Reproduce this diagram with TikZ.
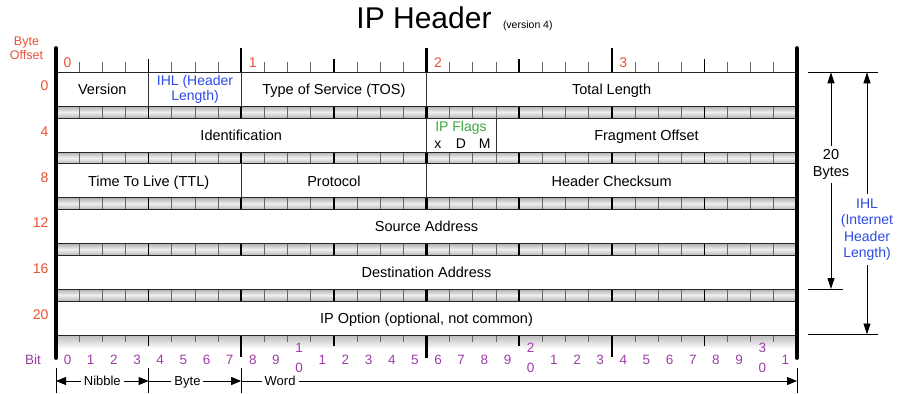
\documentclass[tikz,border=0pt]{standalone}
\usepackage{fontspec}
\setmainfont{Liberation Sans}
\usetikzlibrary{arrows.meta}
\definecolor{offsetred}{RGB}{232,82,52}
\definecolor{bitpurple}{RGB}{158,62,168}
\definecolor{ihlblue}{RGB}{45,75,230}
\definecolor{flaggreen}{RGB}{62,168,62}

\begin{document}
\begin{tikzpicture}[x=1pt,y=-1pt,
  every node/.style={inner sep=0pt, outer sep=0pt},
  field/.style={font=\fontsize{14.5}{16.5}\selectfont, text height=10.4pt, text depth=0pt},
  multifield/.style={font=\fontsize{14}{15.2}\selectfont, align=center},
  offsetnum/.style={font=\fontsize{14}{16}\selectfont, text=offsetred, text height=10pt, text depth=0pt, anchor=east},
  bytenum/.style={font=\fontsize{14}{16}\selectfont, text=offsetred, text height=10pt, text depth=0pt},
  bitnum/.style={font=\fontsize{13.5}{15}\selectfont, text=bitpurple, text height=9.7pt, text depth=0pt},
  rowbox/.style={fill=white, draw=black!85, line width=0.9pt},
  divider/.style={draw=black!80, line width=1pt},
  bittick/.style={draw=black!60, line width=0.8pt},
  nibtick/.style={draw=black, line width=1.4pt},
  bytetick/.style={draw=black, line width=2pt},
  wordtick/.style={draw=black, line width=3.4pt},
  frameedge/.style={draw=black, line width=3.8pt, line cap=round},
  guide/.style={draw=black, line width=0.8pt},
  dimarrow/.style={draw=black, line width=0.9pt, {Triangle[length=11pt,width=7pt]}-{Triangle[length=11pt,width=7pt]}},
  spanarrow/.style={draw=black, line width=0.9pt},
  spanlabel/.style={font=\fontsize{13}{15}\selectfont, fill=white, inner xsep=3pt, inner ysep=1pt, text height=9.4pt, text depth=0pt},
  dimlabel/.style={font=\fontsize{14.5}{16.5}\selectfont, fill=white, align=center, inner sep=4pt}
]
\useasboundingbox (0,0) rectangle (898,394);
\fill[white] (0,0) rectangle (898,394);

% title
\node[anchor=base, font=\fontsize{30}{34}\selectfont] (title) at (424,28) {IP Header};
\node[anchor=base west, font=\fontsize{10.5}{12}\selectfont] (titlever) at (503,28) {(version 4)};

% shaded separator strips between the 32-bit rows, with bit ticks
\foreach \k in {0,...,4}{
  \pgfmathsetmacro\ya{106.3+45.74*\k}
  \pgfmathsetmacro\yb{118.04+45.74*\k}
  \shade[top color=gray!62, bottom color=gray!58, middle color=gray!12] (56,\ya) rectangle (797,\yb);
  \foreach \i in {1,2,3,5,6,7,9,10,11,13,14,15,17,18,19,21,22,23,25,26,27,29,30,31}
    \draw[bittick] ({56+23.156*\i},\ya) -- ({56+23.156*\i},\yb);
  \foreach \i in {4,12,20,28}
    \draw[nibtick] ({56+23.156*\i},\ya) -- ({56+23.156*\i},\yb);
  \foreach \i in {8,24}
    \draw[bytetick] ({56+23.156*\i},\ya) -- ({56+23.156*\i},\yb);
  \draw[wordtick] ({56+23.156*16},\ya) -- ({56+23.156*16},\yb);
}

% shading under the last row
\shade[top color=gray!55, bottom color=white] (56,334.3) rectangle (797,349);

% top ruler
\foreach \i in {1,2,3,5,6,7,9,10,11,13,14,15,17,18,19,21,22,23,25,26,27,29,30,31}
  \draw[bittick] ({56+23.156*\i},62) -- ({56+23.156*\i},72.3);
\foreach \i in {4,12,20,28}
  \draw[nibtick] ({56+23.156*\i},59) -- ({56+23.156*\i},72.3);
\foreach \i in {8,24}
  \draw[bytetick] ({56+23.156*\i},48) -- ({56+23.156*\i},72.3);
\draw[wordtick] ({56+23.156*16},48) -- ({56+23.156*16},72.3);

% bottom ruler
\foreach \i in {1,2,3,5,6,7,9,10,11,13,14,15,17,18,19,21,22,23,25,26,27,29,30,31}
  \draw[bittick] ({56+23.156*\i},334.3) -- ({56+23.156*\i},342);
\foreach \i in {4,12,20,28}
  \draw[nibtick] ({56+23.156*\i},334.3) -- ({56+23.156*\i},346);
\foreach \i in {8,24}
  \draw[bytetick] ({56+23.156*\i},334.3) -- ({56+23.156*\i},357);
\draw[wordtick] ({56+23.156*16},334.3) -- ({56+23.156*16},358);

% the six rows
\foreach \k in {0,...,5}
  \draw[rowbox] (56,{72.3+45.74*\k}) rectangle (797,{106.3+45.74*\k});

% field boundaries inside rows
\draw[divider] (148.6,72.3) -- (148.6,106.3);
\draw[divider] (241.2,72.3) -- (241.2,106.3);
\draw[divider] (426.5,72.3) -- (426.5,106.3);
\draw[divider] (426.5,118.04) -- (426.5,152.04);
\draw[divider] (496,118.04) -- (496,152.04);
\draw[divider] (241.2,163.78) -- (241.2,197.78);
\draw[divider] (426.5,163.78) -- (426.5,197.78);

% outer frame lines
\draw[frameedge] (56,48) -- (56,358);
\draw[frameedge] (797,48) -- (797,358);

% field names
\node[field] (fver) at (102.3,89.3) {Version};
\node[multifield, text=ihlblue] (fihl) at (195,89) {IHL (Header\\Length)};
\node[field] (ftos) at (333.9,89.3) {Type of Service (TOS)};
\node[field] (ftot) at (611.6,89.3) {Total Length};
\node[field] (fid) at (241.2,135) {Identification};
\node[field, text=flaggreen, font=\fontsize{14}{16}\selectfont] (fflags) at (461,126) {IP Flags};
\node[field, font=\fontsize{14}{16}\selectfont] (fx) at (437.8,143.5) {x};
\node[field, font=\fontsize{14}{16}\selectfont] (fd) at (461,143.5) {D};
\node[field, font=\fontsize{14}{16}\selectfont] (fm) at (484.6,143.5) {M};
\node[field] (ffrag) at (646.5,135) {Fragment Offset};
\node[field] (fttl) at (148.6,180.8) {Time To Live (TTL)};
\node[field] (fproto) at (333.9,180.8) {Protocol};
\node[field] (fcheck) at (611.6,180.8) {Header Checksum};
\node[field] (fsrc) at (426.5,226.5) {Source Address};
\node[field] (fdst) at (426.5,272.3) {Destination Address};
\node[field] (fopt) at (426.5,318) {IP Option (optional, not common)};

% byte offsets on the left
\node[font=\fontsize{12.5}{13.5}\selectfont, text=offsetred, align=center] (byteoff) at (26.5,48.5) {Byte\\Offset};
\node[offsetnum] (off0) at (48.5,85.5) {0};
\node[offsetnum] (off4) at (48.5,131.3) {4};
\node[offsetnum] (off8) at (48.5,177) {8};
\node[offsetnum] (off12) at (48.5,222.8) {12};
\node[offsetnum] (off16) at (48.5,268.5) {16};
\node[offsetnum] (off20) at (48.5,314.3) {20};

% byte numbers along the top ruler
\foreach \j in {0,...,3}
  \node[bytenum] (byte\j) at ({56+23.156*(8*\j+0.5)},62) {\j};

% bit numbers along the bottom ruler
\node[bitnum, font=\fontsize{13.5}{15}\selectfont] (bitlabel) at (33,359.5) {Bit};
\foreach \i in {0,...,9,11,12,13,14,15,16,17,18,19,21,22,23,24,25,26,27,28,29,31}{
  \pgfmathtruncatemacro\d{mod(\i,10)}
  \node[bitnum] (bit\i) at ({56+23.156*(\i+0.5)},359.5) {\d};
}
\foreach \t in {1,2,3}{
  \node[bitnum] (bit\t0a) at ({56+23.156*(10*\t+0.5)},348) {\t};
  \node[bitnum] (bit\t0b) at ({56+23.156*(10*\t+0.5)},367.5) {0};
}

% spans: nibble, byte, word
\coordinate (s0) at (56,381);
\coordinate (s1) at (148.6,381);
\coordinate (s2) at (241.2,381);
\coordinate (s3) at (797,381);
\draw[guide] (56,368) -- (56,393);
\draw[guide] (148.6,368) -- (148.6,393);
\draw[guide] (241.2,368) -- (241.2,393);
\draw[guide] (797,368) -- (797,393);
\draw[spanarrow, {Triangle[length=10pt,width=8pt]}-{Triangle[length=10pt,width=8pt]}] (s0) -- node[spanlabel] (nibble) {Nibble} (s1);
\draw[spanarrow, -{Triangle[length=10pt,width=8pt]}] (s1) -- node[spanlabel, pos=0.42] (byte) {Byte} (s2);
\draw[spanarrow, -{Triangle[length=10pt,width=8pt]}] (s2) -- node[spanlabel, pos=0.07] (word) {Word} (s3);

% header length dimensions on the right
\coordinate (g0a) at (808,72.3);
\coordinate (g0b) at (878,72.3);
\coordinate (g1a) at (808,289);
\coordinate (g1b) at (843,289);
\coordinate (g2a) at (808,334.5);
\coordinate (g2b) at (878,334.5);
\draw[guide] (g0a) -- (g0b);
\draw[guide] (g1a) -- (g1b);
\draw[guide] (g2a) -- (g2b);
\coordinate (d1t) at (831,72.3);
\coordinate (d1b) at (831,289);
\coordinate (d2t) at (867,72.3);
\coordinate (d2b) at (867,334.5);
\draw[dimarrow] (d1t) -- node[dimlabel, pos=0.425] (twentybytes) {20\\Bytes} (d1b);
\draw[dimarrow] (d2t) -- node[dimlabel, pos=0.6, text=ihlblue, font=\fontsize{14}{16.6}\selectfont] (ihl) {IHL\\(Internet\\Header\\Length)} (d2b);
\end{tikzpicture}
\end{document}
